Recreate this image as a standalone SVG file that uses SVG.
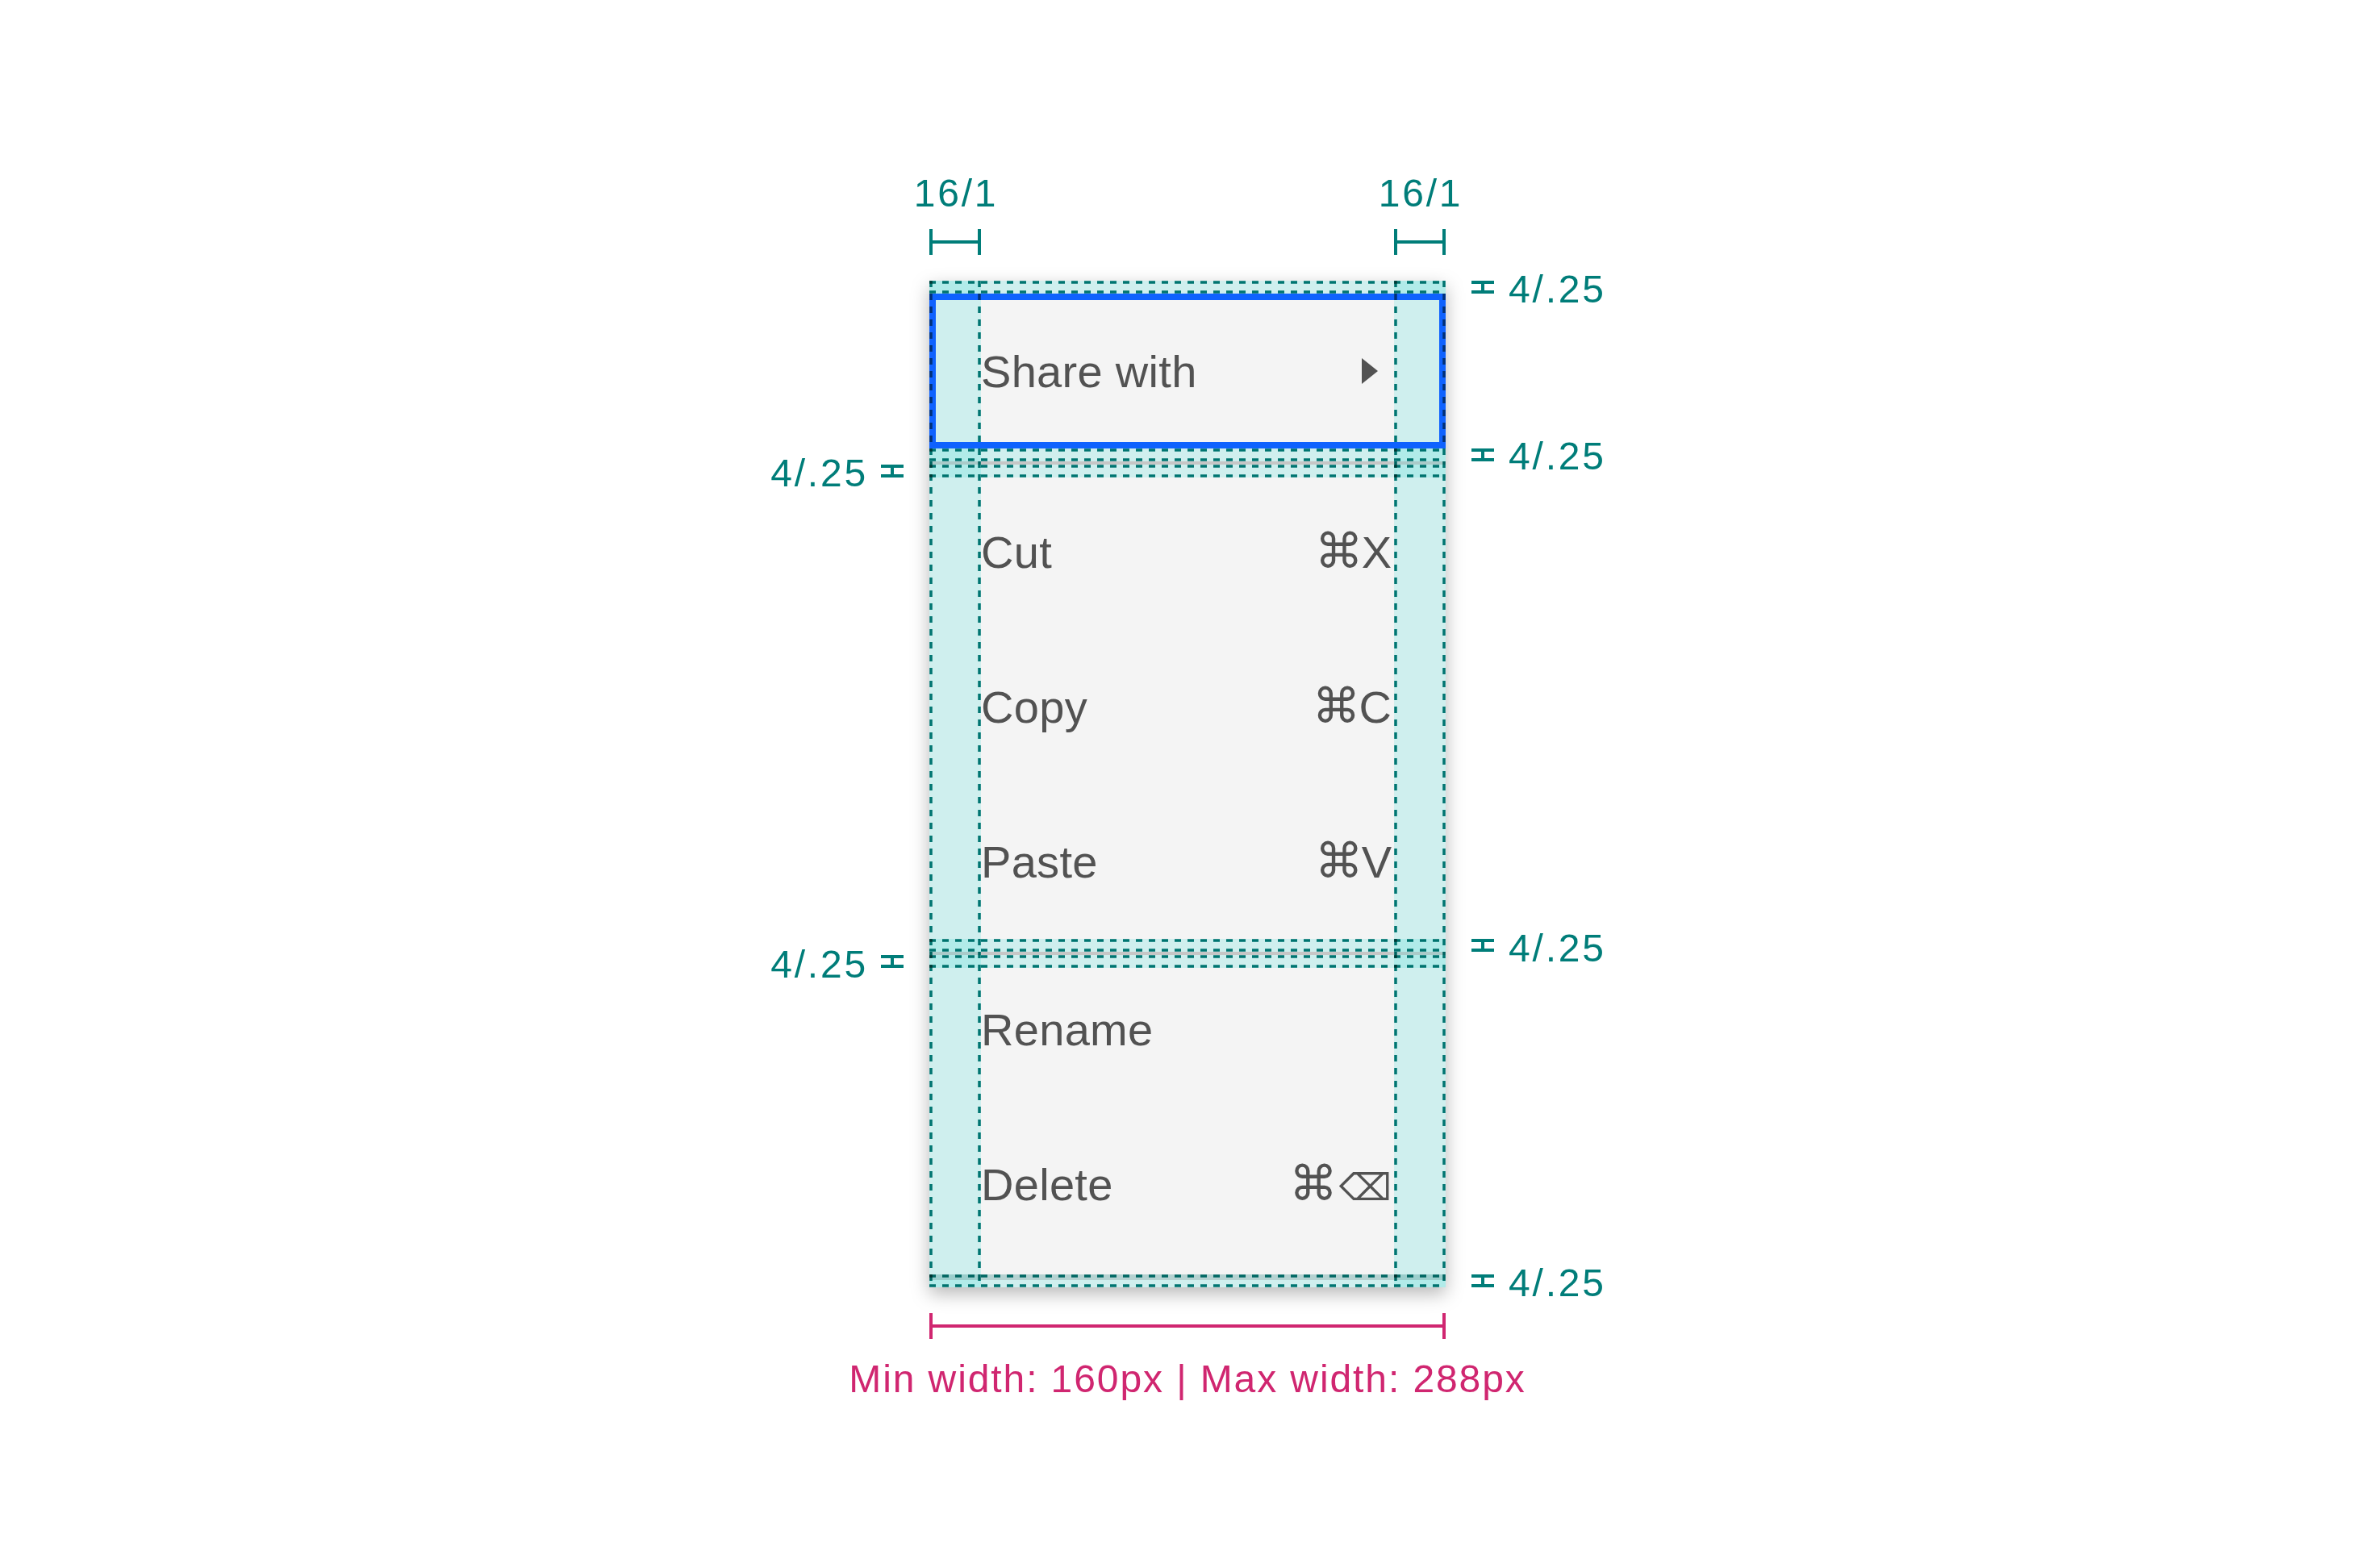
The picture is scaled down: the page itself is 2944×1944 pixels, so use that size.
<svg xmlns="http://www.w3.org/2000/svg" width="2944" height="1944" viewBox="0 0 2944 1944">
  <style>
    .item { font-family: "Liberation Sans", "DejaVu Sans", sans-serif; font-size: 56px; fill: #525252; letter-spacing: 0.3px; }
    .kbd { font-family: "Liberation Sans", "DejaVu Sans", sans-serif; font-size: 56px; fill: #525252; text-anchor: end; }
    .cmd { font-family: "DejaVu Sans", sans-serif; font-size: 60px; }
    .bksp { font-family: "DejaVu Sans", sans-serif; font-size: 46px; }
    .lbl { font-family: "Liberation Sans", "DejaVu Sans", sans-serif; font-size: 48px; fill: #007d79; letter-spacing: 2.8px; }
    .pink { font-family: "Liberation Sans", "DejaVu Sans", sans-serif; font-size: 48px; fill: #d02670; letter-spacing: 1.9px; text-anchor: middle; }
    .tealfill { fill: #3ddbd9; fill-opacity: 0.2; }
    .dash { stroke: #007d79; stroke-width: 3.5; stroke-dasharray: 8 8; fill: none; mix-blend-mode: multiply; }
    .brk { stroke: #007d79; stroke-width: 4; fill: none; }
    .brkp { stroke: #d02670; stroke-width: 4; fill: none; }
    .sym { fill: #007d79; }
    .divider { fill: #c6c6c6; }
  </style>
  <defs>
    <filter id="shadow" x="-20%" y="-10%" width="140%" height="120%">
      <feDropShadow dx="0" dy="8" stdDeviation="11" flood-color="#000000" flood-opacity="0.28"/>
    </filter>
    <g id="ibeam">
      <rect x="0" y="0" width="28" height="4"/>
      <rect x="0" y="12" width="28" height="4"/>
      <rect x="12" y="0" width="4" height="16"/>
    </g>
  </defs>
  <rect width="2944" height="1944" fill="#ffffff"/>

  <g id="menu">
    <rect x="1152" y="348" width="640" height="1248" fill="#f4f4f4" filter="url(#shadow)"/>
    <rect class="divider" x="1152" y="572" width="640" height="4"/>
    <rect class="divider" x="1152" y="1180" width="640" height="4"/>
  </g>

  <g id="item-share">
    <text class="item" x="1216" y="480">Share with</text>
    <polygon points="1688,444 1708,460 1688,476" fill="#525252"/>
  </g>
  <g id="item-cut">
    <text class="item" x="1216" y="704">Cut</text>
    <text class="kbd" x="1725" y="704"><tspan class="cmd">⌘</tspan><tspan dx="-2">X</tspan></text>
  </g>
  <g id="item-copy">
    <text class="item" x="1216" y="896">Copy</text>
    <text class="kbd" x="1725" y="896"><tspan class="cmd">⌘</tspan><tspan dx="-2">C</tspan></text>
  </g>
  <g id="item-paste">
    <text class="item" x="1216" y="1088">Paste</text>
    <text class="kbd" x="1725" y="1088"><tspan class="cmd">⌘</tspan><tspan dx="-2">V</tspan></text>
  </g>
  <g id="item-rename">
    <text class="item" x="1216" y="1296">Rename</text>
  </g>
  <g id="item-delete">
    <text class="item" x="1216" y="1488">Delete</text>
    <text class="kbd" x="1725" y="1488"><tspan class="cmd">⌘</tspan><tspan class="bksp" dx="2">⌫</tspan></text>
  </g>

  <g id="spacing-overlay">
    <rect class="tealfill" x="1152" y="348" width="64" height="1248"/>
    <rect class="tealfill" x="1728" y="348" width="64" height="1248"/>
    <rect class="tealfill" x="1152" y="348" width="640" height="16"/>
    <rect class="tealfill" x="1152" y="556" width="640" height="16"/>
    <rect class="tealfill" x="1152" y="576" width="640" height="16"/>
    <rect class="tealfill" x="1152" y="1164" width="640" height="16"/>
    <rect class="tealfill" x="1152" y="1184" width="640" height="16"/>
    <rect class="tealfill" x="1152" y="1580" width="640" height="16"/>
    <rect x="1152" y="1580" width="640" height="7" fill="#000000" fill-opacity="0.12"/>
  </g>

  <g id="focus-border">
    <rect x="1156" y="368" width="632" height="184" fill="none" stroke="#0f62fe" stroke-width="8"/>
  </g>

  <g id="guides">
    <line class="dash" x1="1154" y1="348" x2="1154" y2="1596"/>
    <line class="dash" x1="1214" y1="348" x2="1214" y2="1596"/>
    <line class="dash" x1="1730" y1="348" x2="1730" y2="1596"/>
    <line class="dash" x1="1790" y1="348" x2="1790" y2="1596"/>
    <line class="dash" x1="1152" y1="350" x2="1792" y2="350"/>
    <line class="dash" x1="1152" y1="362" x2="1792" y2="362"/>
    <line class="dash" x1="1152" y1="558" x2="1792" y2="558"/>
    <line class="dash" x1="1152" y1="570" x2="1792" y2="570"/>
    <line class="dash" x1="1152" y1="578" x2="1792" y2="578"/>
    <line class="dash" x1="1152" y1="590" x2="1792" y2="590"/>
    <line class="dash" x1="1152" y1="1166" x2="1792" y2="1166"/>
    <line class="dash" x1="1152" y1="1178" x2="1792" y2="1178"/>
    <line class="dash" x1="1152" y1="1186" x2="1792" y2="1186"/>
    <line class="dash" x1="1152" y1="1198" x2="1792" y2="1198"/>
    <line class="dash" x1="1152" y1="1582" x2="1792" y2="1582"/>
    <line class="dash" x1="1152" y1="1594" x2="1792" y2="1594"/>
  </g>

  <g id="annotations">
    <g id="pad-left">
      <text class="lbl" x="1185" y="256" text-anchor="middle">16/1</text>
      <path class="brk" d="M1154 284 V316 M1214 284 V316 M1154 300 H1214"/>
    </g>
    <g id="pad-right">
      <text class="lbl" x="1761" y="256" text-anchor="middle">16/1</text>
      <path class="brk" d="M1730 284 V316 M1790 284 V316 M1730 300 H1790"/>
    </g>
    <g id="vpad-r1">
      <use href="#ibeam" class="sym" x="1824" y="348"/>
      <text class="lbl" x="1870" y="375">4/.25</text>
    </g>
    <g id="vpad-r2">
      <use href="#ibeam" class="sym" x="1824" y="556"/>
      <text class="lbl" x="1870" y="582">4/.25</text>
    </g>
    <g id="vpad-r3">
      <use href="#ibeam" class="sym" x="1824" y="1164"/>
      <text class="lbl" x="1870" y="1192">4/.25</text>
    </g>
    <g id="vpad-r4">
      <use href="#ibeam" class="sym" x="1824" y="1580"/>
      <text class="lbl" x="1870" y="1607">4/.25</text>
    </g>
    <g id="vpad-l1">
      <use href="#ibeam" class="sym" x="1092" y="576"/>
      <text class="lbl" x="1076" y="603" text-anchor="end">4/.25</text>
    </g>
    <g id="vpad-l2">
      <use href="#ibeam" class="sym" x="1092" y="1184"/>
      <text class="lbl" x="1076" y="1212" text-anchor="end">4/.25</text>
    </g>
    <g id="width-dim">
      <path class="brkp" d="M1154 1628 V1660 M1790 1628 V1660 M1154 1644 H1790"/>
      <text class="pink" x="1472" y="1726">Min width: 160px | Max width: 288px</text>
    </g>
  </g>
</svg>
